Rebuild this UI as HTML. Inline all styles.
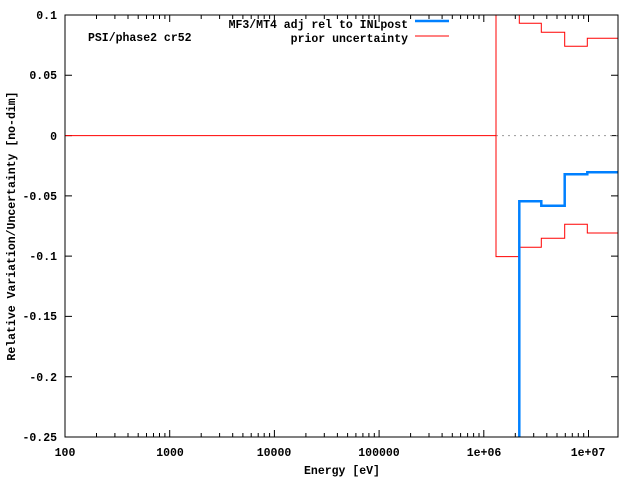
<!DOCTYPE html>
<html><head><style>body{margin:0;background:#fff}svg{display:block}text{font-family:"Liberation Mono",monospace;font-size:11.5px;font-weight:bold;fill:#000}</style></head>
<body>
<svg width="640" height="480" xmlns="http://www.w3.org/2000/svg">
<g stroke="#000" stroke-width="1">
<path d="M65 15h7M618 15h-7M65 75.3h7M618 75.3h-7M65 135.6h7M618 135.6h-7M65 195.9h7M618 195.9h-7M65 256.1h7M618 256.1h-7M65 316.4h7M618 316.4h-7M65 376.7h7M618 376.7h-7M65 437h7M618 437h-7"/>
<path d="M65 437v-7M65 15v7M169.7 437v-7M169.7 15v7M274.4 437v-7M274.4 15v7M379.1 437v-7M379.1 15v7M483.8 437v-7M483.8 15v7M588.5 437v-7M588.5 15v7"/>
<path d="
M96.5 437v-4M96.5 15v4M114.9 437v-4M114.9 15v4M128 437v-4M128 15v4M138.2 437v-4M138.2 15v4M146.5 437v-4M146.5 15v4M153.5 437v-4M153.5 15v4M159.5 437v-4M159.5 15v4M164.9 437v-4M164.9 15v4
M201.2 437v-4M201.2 15v4M219.6 437v-4M219.6 15v4M232.7 437v-4M232.7 15v4M242.9 437v-4M242.9 15v4M251.2 437v-4M251.2 15v4M258.2 437v-4M258.2 15v4M264.2 437v-4M264.2 15v4M269.6 437v-4M269.6 15v4
M305.9 437v-4M305.9 15v4M324.3 437v-4M324.3 15v4M337.4 437v-4M337.4 15v4M347.6 437v-4M347.6 15v4M355.9 437v-4M355.9 15v4M362.9 437v-4M362.9 15v4M368.9 437v-4M368.9 15v4M374.3 437v-4M374.3 15v4
M410.6 437v-4M410.6 15v4M429 437v-4M429 15v4M442.1 437v-4M442.1 15v4M452.3 437v-4M452.3 15v4M460.6 437v-4M460.6 15v4M467.6 437v-4M467.6 15v4M473.6 437v-4M473.6 15v4M479 437v-4M479 15v4
M515.3 437v-4M515.3 15v4M533.7 437v-4M533.7 15v4M546.8 437v-4M546.8 15v4M557 437v-4M557 15v4M565.3 437v-4M565.3 15v4M572.3 437v-4M572.3 15v4M578.3 437v-4M578.3 15v4M583.7 437v-4M583.7 15v4"/>
</g>
<line x1="496" y1="135.6" x2="618" y2="135.6" stroke="#999" stroke-dasharray="2,4"/>
<polyline fill="none" stroke="#f00" stroke-width="1" points="65,135.6 496,135.6"/>
<polyline fill="none" stroke="#f00" stroke-width="1" points="496,15 496,256.6 519.3,256.6 519.3,247.3 541.3,247.3 541.3,238.3 564.7,238.3 564.7,224.3 587.3,224.3 587.3,233 618,233"/>
<polyline fill="none" stroke="#f00" stroke-width="1" points="519.3,15 519.3,23.3 541.3,23.3 541.3,32.3 564.7,32.3 564.7,46.3 587.3,46.3 587.3,38.3 618,38.3"/>
<polyline fill="none" stroke="#0080ff" stroke-width="2.5" points="519.3,437 519.3,201.2 541.3,201.2 541.3,205.8 564.7,205.8 564.7,174.2 587.3,174.2 587.3,172.3 618,172.3"/>
<rect x="65" y="15" width="553" height="422" fill="none" stroke="#000" stroke-width="1"/>
<line x1="415" y1="21" x2="449" y2="21" stroke="#0080ff" stroke-width="2.5"/>
<line x1="415" y1="36" x2="449" y2="36" stroke="#f00" stroke-width="1"/>
<text x="408" y="28" text-anchor="end">MF3/MT4 adj rel to INLpost</text>
<text x="408" y="42" text-anchor="end">prior uncertainty</text>
<text x="88" y="41">PSI/phase2 cr52</text>
<g text-anchor="end">
<text x="57" y="19">0.1</text>
<text x="57" y="79">0.05</text>
<text x="57" y="140">0</text>
<text x="57" y="200">-0.05</text>
<text x="57" y="260">-0.1</text>
<text x="57" y="320">-0.15</text>
<text x="57" y="381">-0.2</text>
<text x="57" y="441">-0.25</text>
</g>
<g text-anchor="middle">
<text x="65" y="456">100</text>
<text x="170" y="456">1000</text>
<text x="274" y="456">10000</text>
<text x="379" y="456">100000</text>
<text x="484" y="456">1e+06</text>
<text x="588" y="456">1e+07</text>
<text x="342" y="474">Energy [eV]</text>
<text transform="translate(15,226) rotate(-90)">Relative Variation/Uncertainty [no-dim]</text>
</g>
</svg>
</body></html>
